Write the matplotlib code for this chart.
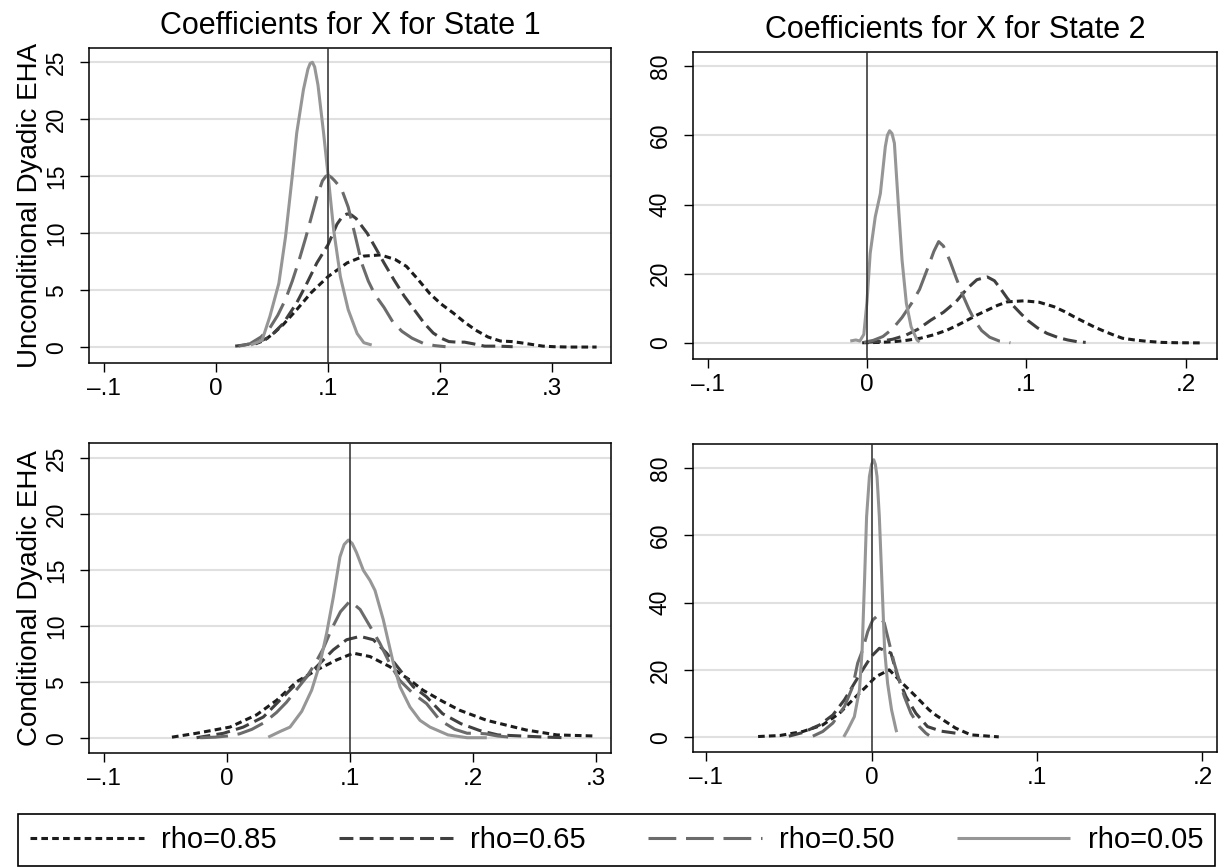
import matplotlib
matplotlib.use('Agg')
import matplotlib.pyplot as plt

plt.rcParams['font.family'] = ['Liberation Sans', 'DejaVu Sans']
plt.rcParams['lines.scale_dashes'] = False

# ---- data (kernel density curves) ----
rhos = ['rho=0.85', 'rho=0.65', 'rho=0.50', 'rho=0.05']
titles = ['Coefficients for X for State 1', 'Coefficients for X for State 2']
row_labels = ['Unconditional Dyadic EHA', 'Conditional Dyadic EHA']

x_ticks_s1 = [-0.1, 0.0, 0.1, 0.2, 0.3]
x_ticks_s2 = [-0.1, 0.0, 0.1, 0.2]
x_labels_s1 = ['\u2013.1', '0', '.1', '.2', '.3']
x_labels_s2 = ['\u2013.1', '0', '.1', '.2']
y_ticks_s1 = [0, 5, 10, 15, 20, 25]
y_ticks_s2 = [0, 20, 40, 60, 80]
true_s1 = 0.1
true_s2 = 0.0

# unconditional, state 1
u1_85_x = [0.035, 0.043, 0.051, 0.060, 0.072, 0.085, 0.100, 0.117, 0.132, 0.147, 0.160, 0.170, 0.180, 0.191,
           0.201, 0.212, 0.222, 0.232, 0.243, 0.254, 0.264, 0.272, 0.282, 0.292, 0.302, 0.315, 0.328, 0.340]
u1_85_y = [0.3, 0.6, 1.2, 2.0, 3.3, 4.8, 6.2, 7.4, 8.0, 8.1, 7.7, 7.1, 6.0, 4.7,
           3.8, 3.0, 2.2, 1.5, 0.9, 0.55, 0.5, 0.4, 0.25, 0.1, 0.05, 0.02, 0.02, 0.02]
u1_65_x = [0.017, 0.025, 0.036, 0.048, 0.060, 0.072, 0.081, 0.090, 0.100, 0.108, 0.113, 0.117, 0.121, 0.125,
           0.135, 0.142, 0.150, 0.159, 0.168, 0.177, 0.186, 0.194, 0.201, 0.208, 0.215, 0.222, 0.230, 0.240,
           0.252, 0.265]
u1_65_y = [0.1, 0.2, 0.4, 0.9, 2.1, 3.9, 5.6, 7.4, 9.0, 10.8, 11.5, 11.7, 11.6, 11.3,
           10.0, 8.8, 7.4, 5.9, 4.5, 3.3, 2.1, 1.25, 0.8, 0.5, 0.45, 0.45, 0.3, 0.1,
           0.1, 0.05]
u1_50_x = [0.020, 0.030, 0.040, 0.048, 0.055, 0.062, 0.068, 0.074, 0.080, 0.085, 0.090, 0.095, 0.098, 0.100,
           0.103, 0.106, 0.112, 0.118, 0.124, 0.130, 0.136, 0.142, 0.150, 0.158, 0.166, 0.175, 0.185, 0.195,
           0.205]
u1_50_y = [0.1, 0.3, 0.9, 1.7, 2.8, 4.2, 5.8, 7.6, 9.6, 11.4, 13.2, 14.6, 15.0, 15.1,
           14.9, 14.6, 13.9, 12.3, 9.9, 7.4, 5.8, 4.6, 3.5, 2.2, 1.4, 0.8, 0.35, 0.15,
           0.05]
u1_05_x = [0.031, 0.041, 0.048, 0.056, 0.062, 0.068, 0.072, 0.078, 0.082, 0.084, 0.086, 0.088, 0.091, 0.096,
           0.100, 0.105, 0.111, 0.118, 0.126, 0.132, 0.139]
u1_05_y = [0.2, 0.6, 2.7, 5.6, 9.7, 15.0, 18.8, 22.6, 24.4, 24.9, 25.0, 24.6, 23.0, 18.8,
           15.1, 10.3, 6.2, 3.3, 1.2, 0.4, 0.2]

# unconditional, state 2
u2_85_x = [-0.003, 0.008, 0.0168, 0.025, 0.0335, 0.042, 0.0503, 0.057, 0.0629, 0.069, 0.0755, 0.082, 0.088, 0.0985,
           0.108, 0.1174, 0.124, 0.130, 0.136, 0.1425, 0.149, 0.155, 0.1604, 0.168, 0.176, 0.185, 0.195, 0.2112]
u2_85_y = [0.1, 0.2, 0.4, 0.8, 1.4, 2.4, 3.75, 5.2, 6.6, 8.1, 9.5, 10.9, 11.9, 12.2,
           11.8, 10.5, 9.1, 7.6, 6.2, 4.7, 3.4, 2.3, 1.4, 0.9, 0.5, 0.2, 0.1, 0.05]
u2_65_x = [0.0, 0.008, 0.016, 0.024, 0.032, 0.040, 0.048, 0.056, 0.063, 0.069, 0.0755, 0.080, 0.084, 0.088,
           0.092, 0.097, 0.101, 0.107, 0.113, 0.120, 0.126, 0.132, 0.1373]
u2_65_y = [0.2, 0.5, 1.1, 2.2, 4.0, 6.6, 8.9, 12.0, 15.8, 18.3, 19.1, 18.0, 15.6, 13.0,
           10.7, 8.3, 6.5, 4.4, 2.8, 1.6, 0.9, 0.4, 0.2]
u2_50_x = [-0.002, 0.004, 0.010, 0.016, 0.022, 0.028, 0.033, 0.038, 0.042, 0.045, 0.048, 0.052, 0.056, 0.060,
           0.064, 0.068, 0.072, 0.077, 0.083, 0.090]
u2_50_y = [0.2, 0.8, 1.9, 4.1, 7.4, 11.5, 15.5, 21.5, 26.5, 29.3, 28.0, 23.8, 18.8, 14.0,
           9.8, 6.2, 3.6, 1.7, 0.6, 0.1]
u2_05_x = [-0.0105, -0.007, -0.0045, -0.002, 0.000, 0.002, 0.0052, 0.0084, 0.0115, 0.0128, 0.0142, 0.0157, 0.0172,
           0.0199, 0.022, 0.0247, 0.0277, 0.0314, 0.033]
u2_05_y = [0.6, 0.9, 0.6, 2.5, 12.0, 25.9, 36.5, 43.2, 56.7, 60.0, 61.3, 60.5, 57.7,
           38.4, 24.0, 11.5, 4.7, 0.9, 0.3]

# conditional, state 1
c1_85_x = [-0.045, -0.025, 0.0022, 0.0239, 0.0402, 0.0564, 0.0727, 0.089, 0.1025, 0.116, 0.132, 0.1485, 0.159,
           0.175, 0.189, 0.211, 0.243, 0.268, 0.300]
c1_85_y = [0.1, 0.45, 1.0, 2.1, 3.4, 5.05, 6.1, 7.0, 7.6, 7.3, 6.4, 5.2, 4.3,
           3.3, 2.5, 1.6, 0.74, 0.3, 0.2]
c1_65_x = [-0.025, -0.0195, -0.003, 0.013, 0.0293, 0.0428, 0.0537, 0.0646, 0.0754, 0.0862, 0.097, 0.108, 0.1187,
           0.1296, 0.1404, 0.1512, 0.162, 0.175, 0.190, 0.205, 0.220, 0.240, 0.260, 0.275]
c1_65_y = [0.05, 0.15, 0.45, 1.0, 1.9, 3.4, 4.6, 5.5, 6.7, 7.9, 8.8, 9.1, 8.8,
           7.6, 6.1, 4.6, 3.7, 2.2, 1.3, 0.7, 0.3, 0.2, 0.1, 0.05]
c1_50_x = [-0.022, -0.010, 0.0, 0.010, 0.020, 0.030, 0.040, 0.048, 0.056, 0.064, 0.071, 0.078, 0.085, 0.092,
           0.0998, 0.108, 0.116, 0.124, 0.132, 0.140, 0.151, 0.162, 0.173, 0.185, 0.195, 0.203, 0.210, 0.220, 0.230]
c1_50_y = [0.05, 0.1, 0.2, 0.4, 0.8, 1.4, 2.3, 3.2, 4.3, 5.4, 6.6, 8.0, 9.8, 11.3,
           12.26, 11.5, 10.0, 8.5, 6.7, 5.2, 4.0, 3.1, 1.6, 0.8, 0.45, 0.45, 0.4, 0.2, 0.1]
c1_05_x = [0.0333, 0.0428, 0.051, 0.0605, 0.0686, 0.0754, 0.0808, 0.0862, 0.0916, 0.095, 0.0984, 0.1015, 0.105,
           0.1106, 0.116, 0.1201, 0.1268, 0.135, 0.1404, 0.1485, 0.1567, 0.1648, 0.1795, 0.195, 0.211]
c1_05_y = [0.1, 0.6, 1.0, 2.4, 4.3, 6.7, 9.4, 12.6, 16.2, 17.3, 17.7, 17.4, 16.6,
           15.0, 14.1, 13.2, 10.6, 6.7, 4.6, 2.8, 1.6, 1.0, 0.3, 0.05, 0.05]

# conditional, state 2
c2_85_x = [-0.0686, -0.0555, -0.0415, -0.0295, -0.0194, -0.0114, -0.0033, 0.0027, 0.0107, 0.0187, 0.0268, 0.0348,
           0.039, 0.0508, 0.060, 0.0769]
c2_85_y = [0.2, 0.5, 1.7, 3.65, 7.1, 11.1, 15.0, 18.0, 20.0, 16.0, 12.1, 8.1,
           6.5, 2.7, 0.7, 0.1]
c2_65_x = [-0.050, -0.0415, -0.0314, -0.0234, -0.0164, -0.0104, -0.0054, -0.0003, 0.0047, 0.0117, 0.0157, 0.0208,
           0.0268, 0.0338, 0.042, 0.0508, 0.052]
c2_65_y = [0.3, 1.4, 3.65, 6.6, 11.1, 16.0, 20.0, 23.9, 26.4, 25.0, 18.0, 12.1,
           7.1, 3.15, 1.8, 1.2, 0.3]
c2_50_x = [-0.0355, -0.0295, -0.0234, -0.0164, -0.0114, -0.0084, -0.0054, -0.0023, 0.0007, 0.0041, 0.0077, 0.0107,
           0.0137, 0.0167, 0.0198, 0.0238, 0.0288, 0.0328, 0.0348]
c2_50_y = [0.3, 1.7, 4.2, 9.1, 15.0, 22.0, 25.9, 31.4, 34.8, 36.3, 33.9, 27.9,
           22.0, 17.0, 12.1, 7.1, 3.2, 1.2, 0.5]
c2_05_x = [-0.0168, -0.0144, -0.0104, -0.0073, -0.0057, -0.0043, -0.003, -0.0013, 0.0, 0.0013, 0.0023, 0.0033,
           0.0047, 0.0063, 0.0079, 0.0097, 0.0121, 0.0148, 0.0152]
c2_05_y = [0.1, 2.2, 6.1, 14.1, 25.9, 45.7, 65.5, 77.4, 81.0, 82.4, 81.0, 77.4,
           65.5, 45.7, 25.9, 16.0, 8.1, 2.2, 1.5]

# line styles per rho (darkest to lightest)
colors = ['#1c1c1c', '#404040', '#6b6b6b', '#969696']
styles = [(0, (4.8, 3.0)), (0, (10.0, 4.5)), (0, (20.0, 7.0)), '-']
LW = 2.2

panels = [
    # rect (fig fraction), limits, ticks, true value, curves
    dict(rect=[0.0727, 0.5817, 0.4261, 0.3633], xlim=(-0.1136, 0.3529), ylim=(-1.35, 26.28),
         xt=x_ticks_s1, xl=x_labels_s1, yt=y_ticks_s1, true=true_s1,
         curves=[(u1_85_x, u1_85_y), (u1_65_x, u1_65_y), (u1_50_x, u1_50_y), (u1_05_x, u1_05_y)]),
    dict(rect=[0.5655, 0.5859, 0.4278, 0.3544], xlim=(-0.1094, 0.2196), ylim=(-4.6, 84.1),
         xt=x_ticks_s2, xl=x_labels_s2, yt=y_ticks_s2, true=true_s2,
         curves=[(u2_85_x, u2_85_y), (u2_65_x, u2_65_y), (u2_50_x, u2_50_y), (u2_05_x, u2_05_y)]),
    dict(rect=[0.0727, 0.1318, 0.4261, 0.3569], xlim=(-0.1124, 0.312), ylim=(-1.29, 26.34),
         xt=x_ticks_s1, xl=x_labels_s1, yt=y_ticks_s1, true=true_s1,
         curves=[(c1_85_x, c1_85_y), (c1_65_x, c1_65_y), (c1_50_x, c1_50_y), (c1_05_x, c1_05_y)]),
    dict(rect=[0.5655, 0.1330, 0.4278, 0.3546], xlim=(-0.1081, 0.2087), ylim=(-4.3, 87.0),
         xt=x_ticks_s2, xl=x_labels_s2, yt=y_ticks_s2, true=true_s2,
         curves=[(c2_85_x, c2_85_y), (c2_65_x, c2_65_y), (c2_50_x, c2_50_y), (c2_05_x, c2_05_y)]),
]

fig = plt.figure(figsize=(12.25, 8.67), dpi=100)
handles = []
axes = []
for i, p in enumerate(panels):
    ax = fig.add_axes(p['rect'])
    axes.append(ax)
    for yv in p['yt']:
        ax.axhline(yv, color='#e0e0e0', lw=1.5, zorder=0)
    for j, (xs, ys) in enumerate(p['curves']):
        ln, = ax.plot(xs, ys, color=colors[j], ls=styles[j], lw=LW, zorder=2 + j,
                      solid_capstyle='butt', dash_capstyle='butt', solid_joinstyle='round', label=rhos[j])
        if i == 0:
            handles.append(ln)
    ax.axvline(p['true'], color='#2b2b2b', lw=1.1, zorder=10)
    ax.set_xlim(*p['xlim'])
    ax.set_ylim(*p['ylim'])
    ax.set_xticks(p['xt'])
    ax.set_xticklabels(p['xl'], fontsize=17.5)
    ax.set_yticks(p['yt'])
    ax.set_yticklabels([str(v) for v in p['yt']], fontsize=16.5, rotation=90, va='center')
    ax.tick_params(axis='both', direction='out', length=6.7, width=1.0, color='black')
    ax.tick_params(axis='x', pad=4)
    ax.tick_params(axis='y', pad=8.5)
    for s in ax.spines.values():
        s.set_linewidth(1.1)
        s.set_color('black')

axes[0].set_title(titles[0], fontsize=22, pad=10)
axes[1].set_title(titles[1], fontsize=22, pad=10)

# row labels on the left
for ax, lab in zip([axes[0], axes[2]], row_labels):
    b = ax.get_position()
    fig.text(30 / 1225, b.y0 + b.height / 2, lab, rotation=90, ha='center', va='center', fontsize=20)

leg = fig.legend(handles=handles, labels=rhos, loc='lower left', ncol=4, mode='expand',
                 bbox_to_anchor=(0.0149, 0.0015, 0.977, 0.0669), fontsize=21,
                 handlelength=3.9, handletextpad=0.6, borderaxespad=0.0, fancybox=False,
                 framealpha=1, edgecolor='black', borderpad=0.4)
leg.get_frame().set_linewidth(1.2)

fig.savefig('out.png', dpi=100, facecolor='white')
